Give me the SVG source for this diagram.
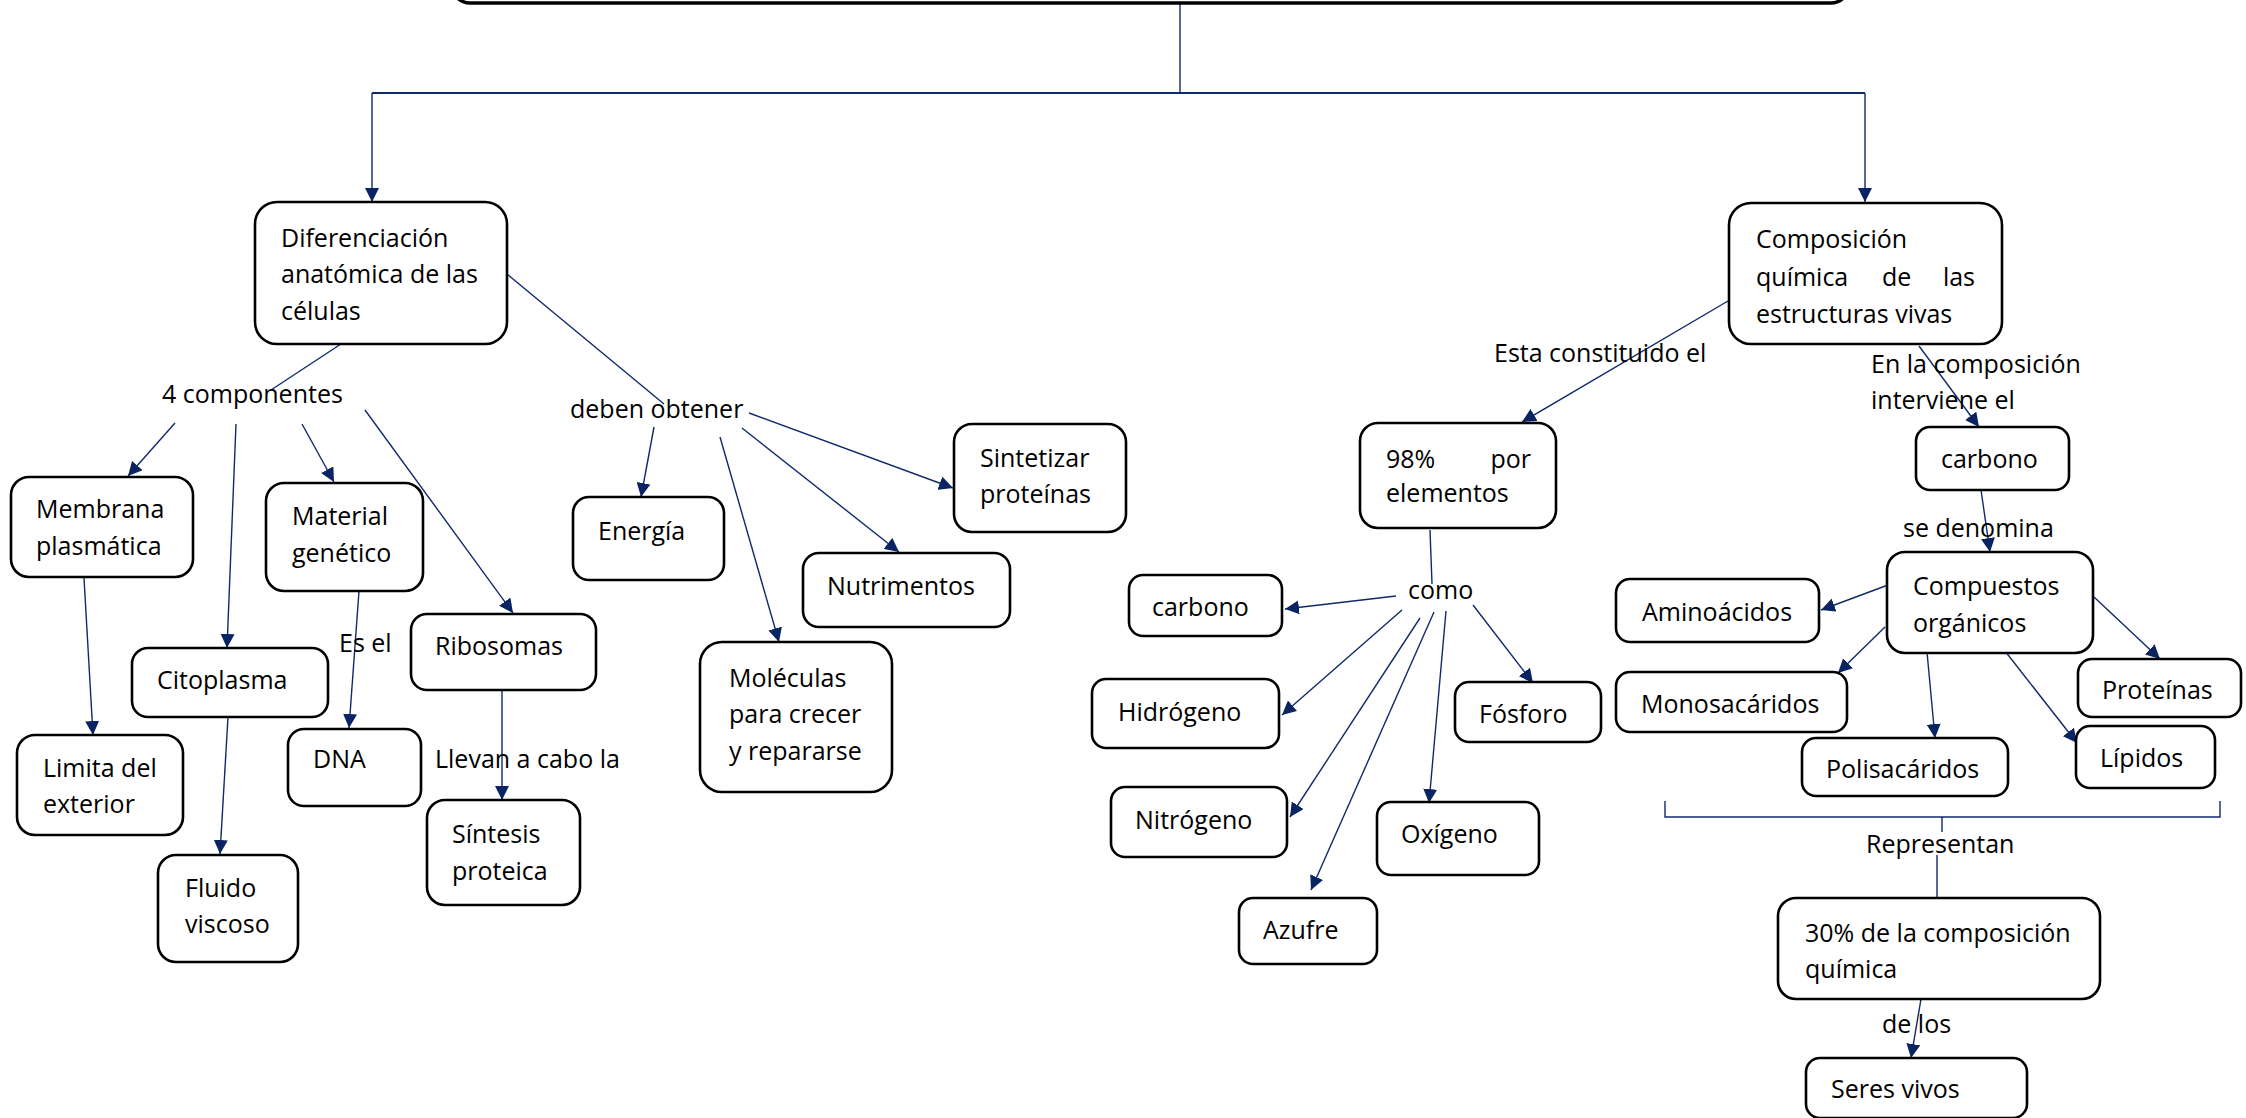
<svg xmlns="http://www.w3.org/2000/svg" width="2246" height="1118" viewBox="0 0 2246 1118">
<style>
.box{fill:#fff;stroke:#000;stroke-width:2.6}
.t{font-family:"Open Sans","Liberation Sans",sans-serif;font-size:25px;fill:#000}
.c{fill:none;stroke:#0f2a6b;stroke-width:1.4}
.a{fill:none;stroke:#0f2a6b;stroke-width:1.4;marker-end:url(#ah)}
</style>
<defs>
<marker id="ah" viewBox="0 0 14 14" refX="14" refY="7" markerWidth="14" markerHeight="14" markerUnits="userSpaceOnUse" orient="auto">
<path d="M0,0 L14,7 L0,14 z" fill="#0a2463"/>
</marker>
</defs>
<rect width="2246" height="1118" fill="#fff"/>
<g id="connectors">
<line class="c" x1="1180" y1="3" x2="1180" y2="93"/>
<polyline class="c" points="372,93 1865,93" style="stroke-width:2"/>
<line class="a" x1="372" y1="93" x2="372" y2="202"/>
<line class="a" x1="1865" y1="93" x2="1865" y2="202"/>
<line class="c" x1="344" y1="342" x2="271" y2="390"/>
<line class="a" x1="175" y1="423" x2="128" y2="476"/>
<line class="a" x1="236" y1="424" x2="227" y2="648"/>
<line class="a" x1="302" y1="424" x2="334" y2="482"/>
<line class="a" x1="365" y1="410" x2="513" y2="613"/>
<line class="a" x1="84" y1="578" x2="93" y2="735"/>
<line class="a" x1="359" y1="591" x2="349" y2="728"/>
<line class="a" x1="502" y1="690" x2="502" y2="800"/>
<line class="a" x1="228" y1="717" x2="220" y2="854"/>
<line class="c" x1="507" y1="274" x2="664" y2="404"/>
<line class="a" x1="654" y1="427" x2="641" y2="497"/>
<line class="a" x1="720" y1="437" x2="779" y2="642"/>
<line class="a" x1="742" y1="428" x2="899" y2="552"/>
<line class="a" x1="749" y1="413" x2="953" y2="488"/>
<line class="a" x1="1728" y1="301" x2="1522" y2="422"/>
<line class="a" x1="1919" y1="346" x2="1979" y2="427"/>
<line class="a" x1="1981" y1="490" x2="1990" y2="552"/>
<line class="a" x1="1888" y1="585" x2="1821" y2="610"/>
<line class="a" x1="1885" y1="627" x2="1838" y2="673"/>
<line class="a" x1="1927" y1="652" x2="1935" y2="738"/>
<line class="a" x1="2005" y1="651" x2="2077" y2="743"/>
<line class="a" x1="2094" y1="597" x2="2160" y2="659"/>
<polyline class="c" points="1665,801 1665,817 2220,817 2220,801"/>
<line class="c" x1="1942" y1="817" x2="1942" y2="832"/>
<line class="c" x1="1937" y1="855" x2="1937" y2="898"/>
<line class="a" x1="1921" y1="999" x2="1911" y2="1058"/>
<line class="c" x1="1430" y1="530" x2="1432" y2="584"/>
<line class="a" x1="1396" y1="596" x2="1285" y2="609"/>
<line class="a" x1="1402" y1="610" x2="1282" y2="715"/>
<line class="a" x1="1420" y1="618" x2="1290" y2="817"/>
<line class="a" x1="1434" y1="612" x2="1311" y2="890"/>
<line class="a" x1="1446" y1="611" x2="1429" y2="803"/>
<line class="a" x1="1473" y1="605" x2="1533" y2="683"/>
<text class="t" x="162" y="403">4 componentes</text>
<text class="t" x="570" y="418">deben obtener</text>
<text class="t" x="339" y="652">Es el</text>
<text class="t" x="435" y="768">Llevan a cabo la</text>
<text class="t" x="1494" y="362">Esta constituido el</text>
<text class="t" x="1871" y="373">En la composición</text>
<text class="t" x="1871" y="409">interviene el</text>
<text class="t" x="1903" y="537">se denomina</text>
<text class="t" x="1408" y="599">como</text>
<text class="t" x="1866" y="853">Representan</text>
<text class="t" x="1882" y="1033">de los</text>
</g>
<g id="n-top"><rect class="box" x="452" y="-40" width="1397" height="43" rx="18" style="stroke-width:3.5"/></g>
<g id="n-dif"><rect class="box" x="255" y="202" width="252" height="142" rx="22"/>
<text class="t" x="281" y="247">Diferenciación</text><text class="t" x="281" y="283">anatómica de las</text><text class="t" x="281" y="320">células</text></g>
<g id="n-memb"><rect class="box" x="11" y="477" width="182" height="100" rx="18"/>
<text class="t" x="36" y="518">Membrana</text><text class="t" x="36" y="555">plasmática</text></g>
<g id="n-mat"><rect class="box" x="266" y="483" width="157" height="108" rx="18"/>
<text class="t" x="292" y="525">Material</text><text class="t" x="292" y="562">genético</text></g>
<g id="n-cito"><rect class="box" x="132" y="648" width="196" height="69" rx="16"/>
<text class="t" x="157" y="689">Citoplasma</text></g>
<g id="n-ribo"><rect class="box" x="411" y="614" width="185" height="76" rx="16"/>
<text class="t" x="435" y="655">Ribosomas</text></g>
<g id="n-limita"><rect class="box" x="17" y="735" width="166" height="100" rx="18"/>
<text class="t" x="43" y="777">Limita del</text><text class="t" x="43" y="813">exterior</text></g>
<g id="n-dna"><rect class="box" x="288" y="729" width="133" height="77" rx="16"/>
<text class="t" x="313" y="768">DNA</text></g>
<g id="n-sint"><rect class="box" x="427" y="800" width="153" height="105" rx="18"/>
<text class="t" x="452" y="843">Síntesis</text><text class="t" x="452" y="880">proteica</text></g>
<g id="n-fluido"><rect class="box" x="158" y="855" width="140" height="107" rx="18"/>
<text class="t" x="185" y="897">Fluido</text><text class="t" x="185" y="933">viscoso</text></g>
<g id="n-energia"><rect class="box" x="573" y="497" width="151" height="83" rx="16"/>
<text class="t" x="598" y="540">Energía</text></g>
<g id="n-sintet"><rect class="box" x="954" y="424" width="172" height="108" rx="18"/>
<text class="t" x="980" y="467">Sintetizar</text><text class="t" x="980" y="503">proteínas</text></g>
<g id="n-nutri"><rect class="box" x="803" y="553" width="207" height="74" rx="16"/>
<text class="t" x="827" y="595">Nutrimentos</text></g>
<g id="n-molec"><rect class="box" x="700" y="642" width="192" height="150" rx="22"/>
<text class="t" x="729" y="687">Moléculas</text><text class="t" x="729" y="723">para crecer</text><text class="t" x="729" y="760">y repararse</text></g>
<g id="n-comp"><rect class="box" x="1729" y="203" width="273" height="141" rx="22"/>
<text class="t" x="1756" y="248">Composición</text>
<text class="t" x="1756" y="286">química</text><text class="t" x="1882" y="286">de</text><text class="t" x="1975" y="286" text-anchor="end">las</text>
<text class="t" x="1756" y="323">estructuras vivas</text></g>
<g id="n-98"><rect class="box" x="1360" y="423" width="196" height="105" rx="18"/>
<text class="t" x="1386" y="468">98%</text><text class="t" x="1531" y="468" text-anchor="end">por</text><text class="t" x="1386" y="502">elementos</text></g>
<g id="n-carb2"><rect class="box" x="1916" y="427" width="153" height="63" rx="14"/>
<text class="t" x="1941" y="468">carbono</text></g>
<g id="n-compu"><rect class="box" x="1887" y="552" width="206" height="101" rx="18"/>
<text class="t" x="1913" y="595">Compuestos</text><text class="t" x="1913" y="632">orgánicos</text></g>
<g id="n-amino"><rect class="box" x="1616" y="579" width="203" height="63" rx="14"/>
<text class="t" x="1642" y="621">Aminoácidos</text></g>
<g id="n-mono"><rect class="box" x="1616" y="672" width="231" height="60" rx="14"/>
<text class="t" x="1641" y="713">Monosacáridos</text></g>
<g id="n-poli"><rect class="box" x="1802" y="738" width="206" height="58" rx="14"/>
<text class="t" x="1826" y="778">Polisacáridos</text></g>
<g id="n-lip"><rect class="box" x="2076" y="726" width="139" height="62" rx="14"/>
<text class="t" x="2100" y="767">Lípidos</text></g>
<g id="n-prot"><rect class="box" x="2078" y="659" width="163" height="58" rx="14"/>
<text class="t" x="2102" y="699">Proteínas</text></g>
<g id="n-30"><rect class="box" x="1778" y="898" width="322" height="101" rx="18"/>
<text class="t" x="1805" y="942">30% de la composición</text><text class="t" x="1805" y="978">química</text></g>
<g id="n-seres"><rect class="box" x="1806" y="1058" width="221" height="60" rx="14"/>
<text class="t" x="1831" y="1098">Seres vivos</text></g>
<g id="n-carb1"><rect class="box" x="1129" y="575" width="153" height="61" rx="14"/>
<text class="t" x="1152" y="616">carbono</text></g>
<g id="n-hidro"><rect class="box" x="1092" y="679" width="187" height="69" rx="14"/>
<text class="t" x="1118" y="721">Hidrógeno</text></g>
<g id="n-fosf"><rect class="box" x="1455" y="682" width="146" height="60" rx="14"/>
<text class="t" x="1479" y="723">Fósforo</text></g>
<g id="n-nitro"><rect class="box" x="1111" y="787" width="176" height="70" rx="14"/>
<text class="t" x="1135" y="829">Nitrógeno</text></g>
<g id="n-oxi"><rect class="box" x="1377" y="802" width="162" height="73" rx="14"/>
<text class="t" x="1401" y="843">Oxígeno</text></g>
<g id="n-azufre"><rect class="box" x="1239" y="898" width="138" height="66" rx="14"/>
<text class="t" x="1263" y="939">Azufre</text></g>
</svg>
